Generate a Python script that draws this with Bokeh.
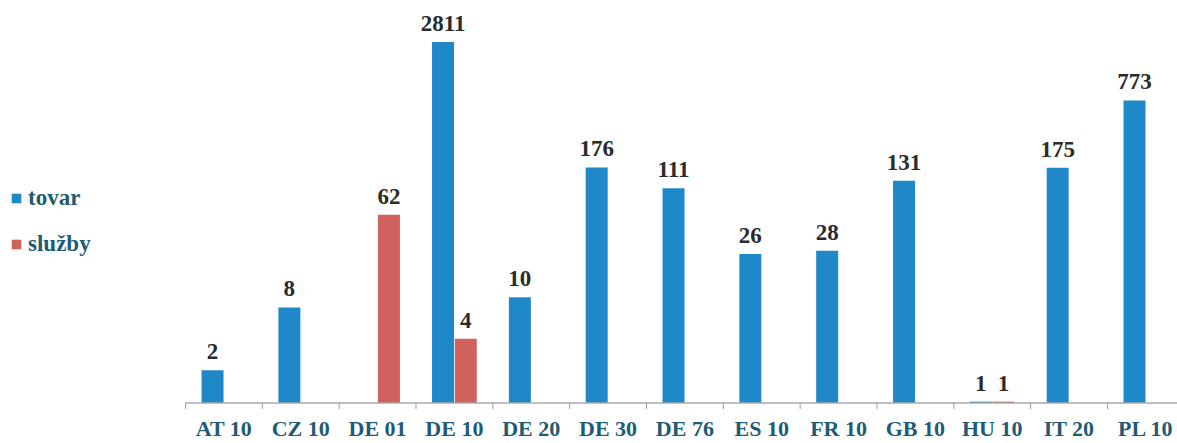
from bokeh.plotting import figure
from bokeh.models import Range1d, Legend, LegendItem, ColumnDataSource
from bokeh.core.properties import value
from bokeh.embed import file_html
from bokeh.resources import INLINE
import math

categories = ["AT 10", "CZ 10", "DE 01", "DE 10", "DE 20", "DE 30", "DE 76",
              "ES 10", "FR 10", "GB 10", "HU 10", "IT 20", "PL 10"]
tovar = [2, 8, None, 2811, 10, 176, 111, 26, 28, 131, 1, 175, 773]
sluzby = [None, None, 62, 4, None, None, None, None, None, None, 1, None, None]

BLUE = "#1f88c8"
RED = "#d0615e"
TEAL = "#1f5b74"
FONT = "Liberation Serif"

W, H = 1177, 443
base_px = 402.5          # baseline position from top of frame
px_per_cat = 76.83
px_per_dec = 104.3
left_px = 185.0

x0 = -left_px / px_per_cat
x1 = x0 + W / px_per_cat
base = 0.97
ystart = 10 ** (math.log10(base) - (H - base_px) / px_per_dec)
yend = 10 ** (math.log10(base) + base_px / px_per_dec)

p = figure(width=W, height=H, output_backend="svg", toolbar_location=None,
           y_axis_type="log", x_range=Range1d(x0, x1), y_range=Range1d(ystart, yend),
           min_border_left=0, min_border_right=0, min_border_top=0,
           min_border_bottom=0)
p.outline_line_color = None
p.xgrid.visible = False
p.ygrid.visible = False
p.yaxis.visible = False
p.xaxis.visible = False

off = 0.148
bw = 0.286

tx = [i + 0.5 - off for i, v in enumerate(tovar) if v is not None]
tv = [v for v in tovar if v is not None]
sx = [i + 0.5 + off for i, v in enumerate(sluzby) if v is not None]
sv = [v for v in sluzby if v is not None]

src_t = ColumnDataSource(dict(x=tx, top=tv, lab=[str(v) for v in tv]))
src_s = ColumnDataSource(dict(x=sx, top=sv, lab=[str(v) for v in sv]))

rt = p.vbar(x="x", top="top", bottom=base, width=bw, source=src_t,
            fill_color=BLUE, line_color=None)
rs = p.vbar(x="x", top="top", bottom=base, width=bw, source=src_s,
            fill_color=RED, line_color=None)

for src in (src_t, src_s):
    p.text(x="x", y="top", text="lab", source=src, text_align="center",
           text_baseline="bottom", y_offset=-11, text_font=value(FONT),
           text_font_style="bold", text_font_size="23px", text_color="#2b2b2b")

# category axis: baseline, boundary ticks and labels
n = len(categories)
tick_len = 10 ** (-6 / px_per_dec)
p.segment(x0=[0], y0=[base], x1=[n], y1=[base], line_color="#aaaaaa", line_width=1.5)
p.segment(x0=list(range(n + 1)), y0=[base] * (n + 1), x1=list(range(n + 1)),
          y1=[base * tick_len] * (n + 1), line_color="#999999", line_width=1)
p.text(x=[i + 0.5 for i in range(n)], y=[base] * n, text=categories,
       text_align="center", text_baseline="top", y_offset=13,
       text_font=value(FONT), text_font_style="bold", text_font_size="22px",
       text_color=TEAL)

legend = Legend(items=[LegendItem(label="tovar", renderers=[rt]),
                       LegendItem(label="služby", renderers=[rs])],
                location=(10, 186))
legend.glyph_width = 12
legend.glyph_height = 12
legend.label_height = 24
legend.spacing = 20
legend.padding = 0
legend.margin = 0
legend.label_standoff = 6
legend.border_line_color = None
legend.background_fill_alpha = 0
legend.label_text_font = FONT
legend.label_text_font_style = "bold"
legend.label_text_font_size = "23px"
legend.label_text_color = TEAL
p.add_layout(legend)

open("out.html", "w").write(file_html(p, INLINE))
